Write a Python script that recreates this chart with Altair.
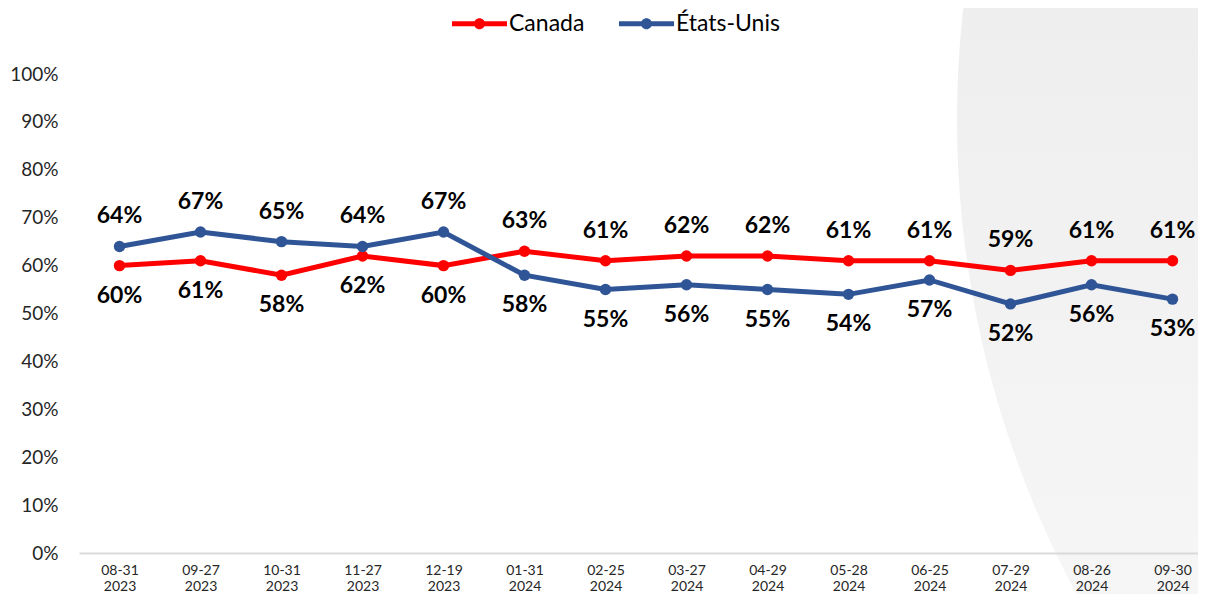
import altair as alt
import pandas as pd

dates = ["08-31 2023", "09-27 2023", "10-31 2023", "11-27 2023", "12-19 2023",
         "01-31 2024", "02-25 2024", "03-27 2024", "04-29 2024", "05-28 2024",
         "06-25 2024", "07-29 2024", "08-26 2024", "09-30 2024"]
canada = [60, 61, 58, 62, 60, 63, 61, 62, 62, 61, 61, 59, 61, 61]
usa = [64, 67, 65, 64, 67, 58, 55, 56, 55, 54, 57, 52, 56, 53]
series_names = ["Canada", "États-Unis"]
series_colors = ["#FF0000", "#2F5597"]
y_ticks = [0, 10, 20, 30, 40, 50, 60, 70, 80, 90, 100]

rows = []
for d, c, u in zip(dates, canada, usa):
    rows.append({"date": d, "series": "Canada", "value": c, "pos": "above" if c > u else "below"})
    rows.append({"date": d, "series": "États-Unis", "value": u, "pos": "above" if u > c else "below"})
df = pd.DataFrame(rows)

FONT = "Lato"

x = alt.X("date:N", sort=dates, title=None,
          scale=alt.Scale(type="point", padding=0.5, range=[0, 1134]),
          axis=alt.Axis(labelAngle=0, labelExpr="split(datum.value, ' ')",
                        labelFontSize=14, labelFont=FONT, labelColor="#262626",
                        labelLineHeight=16, labelBaseline="top", labelPadding=10,
                        ticks=False, tickSize=0, domainColor="#D9D9D9", domainWidth=2,
                        grid=False, zindex=1))
y = alt.Y("value:Q", title=None,
          scale=alt.Scale(domain=[0, 100], nice=False, zero=True),
          axis=alt.Axis(values=y_ticks, labelExpr="datum.value + '%'",
                        labelFontSize=19, labelFont=FONT, labelColor="#262626",
                        labelPadding=21, ticks=False, tickSize=0, domain=False,
                        grid=False))

# legend symbol: a 55px line with a dot, drawn in a 20px layout box
legend_path = ("M-2.75,-0.25 L2.75,-0.25 L2.75,0.25 L-2.75,0.25 Z "
               "M-0.55,0 A0.55,0.55 0 1,1 0.55,0 A0.55,0.55 0 1,1 -0.55,0 Z")
legend = alt.Legend(title=None, orient="none", direction="horizontal",
                    legendX=389, legendY=-62, padding=0,
                    symbolType=legend_path, symbolSize=400,
                    symbolStrokeWidth=0, symbolOpacity=1,
                    labelFont=FONT, labelFontSize=23,
                    labelColor="#000000", labelOffset=18, columnPadding=34)
color = alt.Color("series:N", scale=alt.Scale(domain=series_names, range=series_colors),
                  legend=legend)

bg = alt.Chart(pd.DataFrame({"a": [0]})).mark_circle(
    opacity=1,
    fill=alt.Gradient(gradient="linear", x1=0, x2=0, y1=0, y2=1,
                      stops=[alt.GradientStop(offset=0.44, color="#EEEEEE"),
                             alt.GradientStop(offset=0.74, color="#F6F6F6")]),
).encode(x=alt.value(1878), y=alt.value(46), size=alt.value(4000000))

base = alt.Chart(df)

lines = base.mark_line(strokeWidth=5).encode(x=x, y=y, color=color)
points = base.mark_circle(size=130, opacity=1).encode(x=x, y=y, color=color)

text_style = dict(font=FONT, fontSize=23, fontWeight="bold", color="#000000",
                  align="center", baseline="middle")

labels_above = base.transform_filter("datum.pos == 'above'").transform_calculate(
    label="datum.value + '%'").mark_text(dy=-30, **text_style).encode(
    x=x, y=y, text=alt.Text("label:N"))
labels_below = base.transform_filter("datum.pos == 'below'").transform_calculate(
    label="datum.value + '%'").mark_text(dy=30, **text_style).encode(
    x=x, y=y, text=alt.Text("label:N"))

chart = alt.layer(bg, lines, points, labels_above, labels_below).properties(
    width=1119, height=479,
    autosize=alt.AutoSizeParams(type="none"),
    padding={"left": 71, "top": 66, "right": 0, "bottom": 41},
    background="#FFFFFF",
).configure_view(stroke=None)

chart.save("out.html", embed_options={"renderer": "svg", "actions": False})
